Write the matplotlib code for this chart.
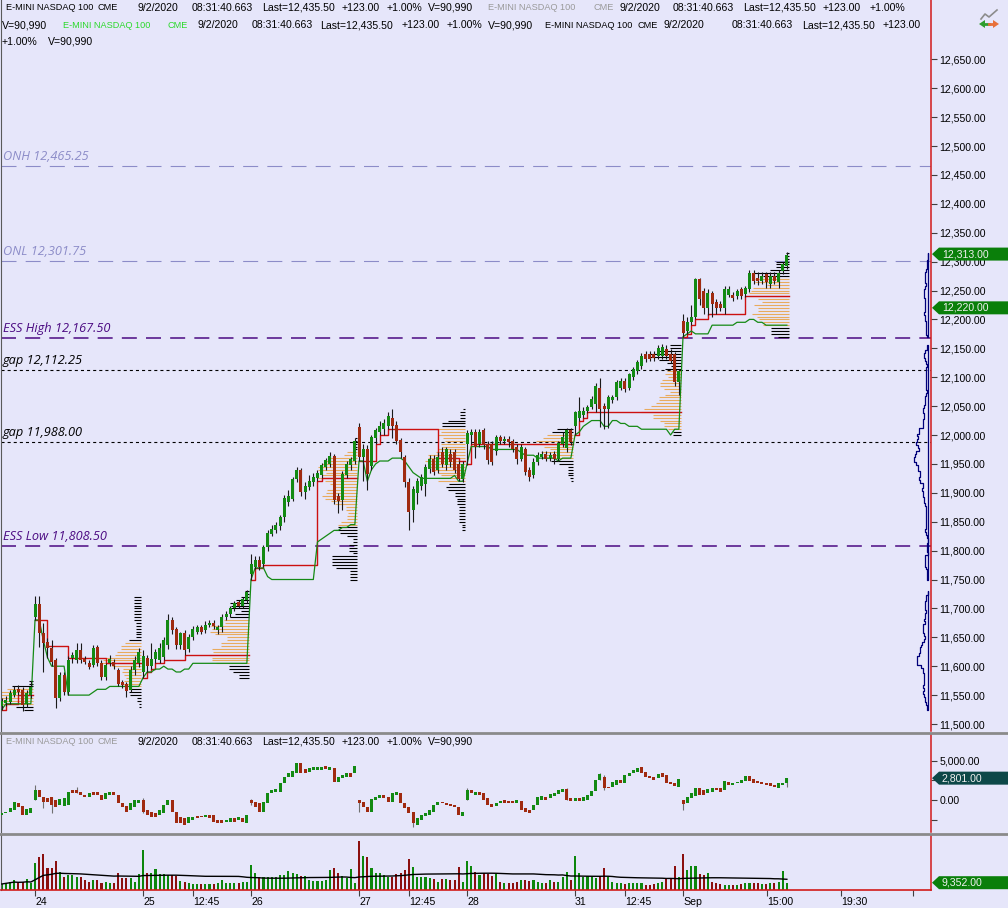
import numpy as np
import pandas as pd
import matplotlib
matplotlib.use("Agg")
import matplotlib.pyplot as plt
from matplotlib.patches import Polygon
from matplotlib.lines import Line2D
from matplotlib.ticker import FuncFormatter

plt.rcParams["font.family"] = ["Liberation Sans", "DejaVu Sans"]
plt.rcParams["lines.scale_dashes"] = False

# ---------------------------------------------------------------- data
# 15 min RTH bars : tail of Aug 21, then Aug 24, 25, 26, 27, 28, 31, Sep 1
opens = [11531, 11537, 11538, 11550, 11561, 11559, 11535, 11550,
         11685, 11707, 11657, 11642, 11631, 11610, 11545, 11585, 11555, 11615, 11610, 11628, 11612,
         11605, 11602, 11633, 11605, 11581, 11605, 11608, 11593, 11572, 11569, 11559, 11593, 11605,
         11590, 11615, 11600, 11612, 11610, 11616, 11636, 11680, 11664, 11636, 11657, 11630, 11650,
         11660, 11668, 11662, 11672, 11675, 11662, 11668, 11685, 11690, 11700, 11711, 11705, 11714,
         11760, 11772, 11784, 11777, 11806, 11829, 11836, 11842, 11858, 11884, 11890, 11924, 11940,
         11901, 11910, 11918, 11925, 11930, 11945, 11950, 11964, 11895, 11887, 11930, 11948, 11955,
         12013, 11962, 11976, 11947, 11994, 12005, 12010, 12016, 12030, 12018, 11992, 11962, 11918,
         11870, 11900, 11912, 11915, 11941, 11959, 11940, 11970, 11948, 11968, 11970, 11950, 11924,
         11985, 12000, 12005, 11985, 12008, 11985, 11985, 11973, 11996, 11990, 11993, 11990, 11980,
         11958, 11976, 11939, 11930, 11953, 11962, 11968, 11960, 11968, 11958, 11985, 11978, 12008,
         12016, 12030, 12035, 12042, 12048, 12053, 12082, 12050, 12045, 12060, 12065, 12082, 12094,
         12082, 12100, 12111, 12120, 12141, 12141, 12141, 12137, 12137, 12148, 12141, 12140, 12091,
         12198, 12180, 12196, 12205, 12270, 12250, 12220, 12246, 12230, 12226, 12220, 12243, 12243,
         12240, 12252, 12244, 12252, 12281, 12272, 12266, 12278, 12261, 12275, 12264, 12283, 12292]
highs = [11545, 11548, 11558, 11566, 11568, 11564, 11558, 11575,
         11721, 11721, 11675, 11648, 11645, 11615, 11590, 11590, 11618, 11625, 11640, 11640, 11617,
         11610, 11636, 11636, 11610, 11606, 11620, 11612, 11597, 11576, 11572, 11600, 11618, 11632,
         11628, 11620, 11640, 11630, 11640, 11650, 11690, 11685, 11668, 11660, 11662, 11655, 11670,
         11672, 11672, 11678, 11680, 11680, 11672, 11690, 11696, 11705, 11712, 11715, 11720, 11732,
         11794, 11790, 11790, 11810, 11835, 11845, 11850, 11862, 11896, 11905, 11928, 11945, 11943,
         11918, 11930, 11935, 11940, 11952, 11960, 11970, 11968, 11900, 11938, 11955, 11962, 11995,
         12020, 11985, 11982, 12000, 12012, 12025, 12028, 12040, 12045, 12025, 11995, 11966, 11925,
         11912, 11926, 11932, 11950, 11965, 11965, 11970, 11980, 11980, 11975, 11976, 11955, 11955,
         12008, 12010, 12010, 12010, 12012, 11990, 11990, 12000, 12000, 11998, 11998, 11993, 11985,
         11985, 11980, 11945, 11960, 11970, 11972, 11972, 11970, 11972, 11990, 12005, 12012, 12012,
         12042, 12065, 12048, 12052, 12068, 12090, 12098, 12055, 12070, 12070, 12095, 12098, 12098,
         12108, 12118, 12130, 12142, 12146, 12146, 12146, 12155, 12158, 12155, 12148, 12144, 12115,
         12210, 12205, 12225, 12272, 12272, 12255, 12252, 12250, 12235, 12232, 12258, 12258, 12248,
         12252, 12256, 12258, 12285, 12285, 12282, 12282, 12282, 12282, 12282, 12285, 12300, 12316]
lows = [11525, 11532, 11534, 11546, 11550, 11522, 11530, 11545,
        11680, 11633, 11590, 11614, 11600, 11528, 11540, 11550, 11550, 11605, 11605, 11605, 11603,
        11595, 11598, 11600, 11576, 11576, 11600, 11596, 11565, 11562, 11547, 11555, 11585, 11598,
        11580, 11590, 11595, 11605, 11605, 11610, 11630, 11655, 11630, 11630, 11620, 11625, 11645,
        11655, 11655, 11658, 11668, 11665, 11655, 11660, 11680, 11685, 11696, 11700, 11700, 11710,
        11749, 11768, 11766, 11772, 11800, 11825, 11830, 11835, 11850, 11878, 11885, 11918, 11895,
        11890, 11905, 11912, 11920, 11925, 11940, 11945, 11880, 11865, 11870, 11925, 11940, 11950,
        11955, 11920, 11905, 11940, 11985, 12000, 12000, 12010, 11995, 11985, 11960, 11910, 11835,
        11850, 11880, 11905, 11895, 11935, 11930, 11935, 11945, 11940, 11945, 11935, 11920, 11918,
        11948, 11985, 11960, 11980, 11975, 11950, 11948, 11965, 11985, 11985, 11980, 11970, 11950,
        11955, 11930, 11920, 11925, 11948, 11958, 11955, 11955, 11950, 11955, 11980, 11970, 11982,
        12000, 12025, 12030, 12038, 12045, 12040, 12013, 12010, 12012, 12055, 12060, 12078, 12075,
        12078, 12096, 12105, 12115, 12126, 12128, 12128, 12132, 12132, 12132, 12125, 12085, 12070,
        12170, 12175, 12190, 12200, 12225, 12210, 12208, 12205, 12210, 12215, 12210, 12238, 12232,
        12235, 12236, 12238, 12248, 12262, 12260, 12262, 12255, 12255, 12262, 12255, 12278, 12288]
closes = [11539, 11542, 11553, 11559, 11555, 11533, 11553, 11564,
          11707, 11657, 11640, 11631, 11607, 11545, 11585, 11555, 11610, 11619, 11628, 11610, 11607,
          11598, 11631, 11605, 11581, 11602, 11612, 11600, 11570, 11567, 11557, 11593, 11610, 11625,
          11617, 11600, 11612, 11625, 11631, 11645, 11680, 11662, 11636, 11657, 11628, 11650, 11664,
          11668, 11660, 11672, 11675, 11670, 11668, 11685, 11691, 11700, 11709, 11705, 11717, 11728,
          11777, 11784, 11772, 11806, 11830, 11838, 11845, 11858, 11891, 11895, 11924, 11940, 11901,
          11912, 11920, 11928, 11935, 11948, 11956, 11964, 11887, 11885, 11933, 11950, 11958, 11990,
          11962, 11976, 11933, 11996, 12008, 12016, 12020, 12033, 12016, 11990, 11970, 11918, 11866,
          11907, 11921, 11927, 11944, 11959, 11936, 11962, 11950, 11975, 11953, 11940, 11924, 11950,
          12003, 12005, 11979, 12005, 11982, 11956, 11953, 11996, 11990, 11993, 11988, 11975, 11958,
          11980, 11936, 11927, 11953, 11965, 11968, 11959, 11966, 11958, 11987, 11997, 12008, 11988,
          12039, 12042, 12042, 12048, 12062, 12085, 12045, 12045, 12065, 12065, 12091, 12094, 12080,
          12105, 12114, 12126, 12137, 12131, 12132, 12133, 12151, 12152, 12137, 12128, 12091, 12111,
          12177, 12196, 12205, 12270, 12235, 12220, 12246, 12226, 12220, 12220, 12252, 12252, 12237,
          12249, 12241, 12255, 12281, 12266, 12266, 12275, 12264, 12275, 12266, 12281, 12295, 12312]
volumes = [7690, 9390, 10680, 12810, 8540, 10680, 13660, 8540,
           35010, 42700, 46120, 27760, 27760, 37150, 23490, 17080, 19220, 19220, 17080, 17080, 12810,
           10680, 12810, 12810, 8540, 10680, 9390, 8540, 21350, 14950, 14950, 14950, 10680, 20500,
           51240, 22200, 22200, 26470, 20500, 20500, 19220, 19220, 18360, 11960, 10680, 8540, 7690,
           7690, 7690, 7690, 7690, 7690, 9390, 12810, 9390, 8540, 9390, 9390, 10680, 10680,
           32030, 22200, 17080, 17080, 17080, 17080, 17080, 18790, 19220, 24770, 22200, 20500, 17930,
           17930, 12810, 11960, 11960, 11960, 12810, 25620, 27760, 22200, 17930, 14950, 26470, 9390,
           63200, 43550, 41850, 27760, 22200, 22200, 19220, 17080, 17080, 20500, 21350, 25620, 39280,
           29040, 17080, 17080, 17080, 14950, 13660, 10680, 13660, 13660, 12810, 12810, 29890, 10680,
           37150, 30740, 23490, 19220, 22200, 20500, 17930, 20500, 10680, 8540, 8540, 9390, 10680,
           12810, 12810, 11960, 12810, 10680, 9390, 9390, 12810, 10680, 10680, 17080, 23490, 12810,
           43550, 22200, 17080, 17930, 17080, 14950, 17080, 27760, 17080, 10680, 9390, 8540, 7690,
           8540, 9390, 9390, 9390, 6410, 6410, 7690, 8540, 10680, 13660, 13660, 30740, 17080,
           46120, 25620, 30740, 30740, 20500, 19220, 21350, 10680, 9390, 7690, 6410, 6410, 6410,
           6410, 7690, 9390, 8540, 8540, 8540, 7690, 7690, 8540, 9390, 10680, 24770, 9352]
delta_open = [-1920, -1700, -1490, -1270, -340, -760, -1920, -1700,
              10, 1290, 430, 220, 430, 10, -630, -760, -630, 1290, 1290, 1070, 650,
              430, 1070, 1070, 650, 90, 650, 1070, 650, -340, -760, -1270, -850, -340,
              10, -1270, -1490, -1700, -1920, -1700, -630, 10, -1490, -2210, -2340, -2980, -2560,
              -2040, -2040, -2210, -1920, -1920, -2560, -2560, -2770, -2770, -2340, -2560, -2340, -2980,
              10, -210, -420, -1490, -420, 860, 1070, 1070, 2140, 3000, 3000, 3510, 4700,
              3940, 3640, 3850, 3850, 3850, 4360, 3850, 4060, 2360, 2780, 3000, 3510, 3510,
              10, -210, -850, -1490, 10, 220, 650, 430, -210, 650, 950, -340, -850,
              -1490, -3200, -2560, -2040, -1920, -1490, -630, -210, -340, -500, -630, -850, -2040,
              10, 1290, 650, 1070, 860, 220, -510, -760, -340, 10, -80, -120, -420,
              -80, -1060, -1270, -1270, -630, 10, 430, 220, 520, 780, 1070, 1370, 220,
              -80, 220, -80, 10, 520, 1200, 2570, 3000, 1720, 1720, 1930, 2570, 2140,
              3080, 3420, 3640, 4190, 3640, 3080, 2910, 2780, 3420, 3210, 2360, 2230, 1720,
              10, -340, 220, 520, 1500, 1290, 860, 1070, 1500, 1500, 1290, 2360, 1930,
              2140, 2140, 2480, 3080, 2650, 2480, 2360, 2140, 2140, 1930, 1500, 1930, 2140]
delta_close = [-1620, -1490, -1060, -210, -850, -1920, -1190, -1060,
               1290, 430, -210, -210, -630, -850, 90, 220, 1070, 860, 860, 650, 430,
               860, 650, 650, 10, 860, 1070, 650, -420, -850, -1490, -420, 10, 10,
               -1490, -1920, -2130, -2130, -1270, -630, 10, -1490, -2980, -2980, -3200, -2130, -2130,
               -2340, -2210, -1920, -2340, -2770, -2900, -2980, -2560, -2340, -2770, -2210, -2770, -1920,
               -420, -850, -1490, -210, 950, 1290, 1370, 2140, 3000, 3420, 3770, 4700, 3420,
               3420, 4060, 4190, 4280, 4280, 3940, 4280, 2360, 3000, 3210, 3510, 3000, 4360,
               -420, -850, -1490, 90, 430, 650, 220, -210, 860, 1070, -420, -1060, -1700,
               -2980, -2340, -1920, -1700, -1270, -630, -210, -420, -630, -760, -850, -1920, -1490,
               1290, 860, 1070, 650, 10, -630, -850, -420, -120, -340, -420, -420, 10,
               -1270, -1490, -1620, -630, 430, 520, 10, 780, 950, 1290, 1370, 10, -80,
               220, -80, 430, 650, 1200, 2570, 3300, 1500, 1500, 2360, 2570, 2140, 3210,
               3510, 3850, 4060, 3510, 3000, 2780, 2570, 3340, 3000, 2230, 2060, 1800, 2650,
               -500, 430, 950, 1500, 650, 650, 1370, 1500, 1290, 1070, 2480, 1930, 2230,
               2360, 2570, 3080, 2480, 2230, 2140, 2060, 1930, 1800, 1720, 2140, 2230, 2780]
# bars whose delta wick goes visibly past the body: index -> (high, low)
delta_wicks = {8: (1930, 10), 10: (430, -1060), 12: (430, -1700), 18: (1720, 860),
               34: (220, -1700), 60: (100, -700), 86: (10, -1490), 99: (-1490, -3400),
               112: (1500, 10), 136: (1500, 10), 144: (3400, 2570), 145: (3200, 1300),
               164: (10, -1270), 189: (2780, 1720)}

session_starts = [0, 8, 34, 60, 86, 112, 138, 164]
xtick_pos = [8, 34, 46, 60, 86, 98, 112, 138, 150, 164, 184.3, 202, 219.3]
xtick_lab = ["24", "25", "12:45", "26", "27", "12:45", "28", "31", "12:45", "Sep", "15:00", "19:30", ""]

level_names = ["ONH", "ONL", "ESS High", "gap", "gap", "ESS Low"]
level_prices = [12465.25, 12301.75, 12167.50, 12112.25, 11988.00, 11808.50]

tag_prices = [12313.0, 12220.0]
delta_last = 2801.0
volume_last = 9352.0

# ---------------------------------------------------------------- style
W, H = 1008, 908
BG = "#E6E6FA"
GREEN, RED = "#138A13", "#A02A10"
VGREEN, VRED = "#0C870C", "#8B0F0F"
ORANGE = "#E8AB5E"
AXRED = "#D21A1A"
NAVY = "#00007A"

o = np.array(opens, float); h = np.array(highs, float)
l = np.array(lows, float); c = np.array(closes, float)
vol = np.array(volumes, float)
do = np.array(delta_open, float); dc = np.array(delta_close, float)
n = len(c); idx = np.arange(n)
up = c >= o

fig = plt.figure(figsize=(W / 100, H / 100), dpi=100, facecolor=BG)


def rect(x0, y0, x1, y1):
    return [x0 / W, 1 - y1 / H, (x1 - x0) / W, (y1 - y0) / H]


def fx(px):
    return px / W


def fy(py):
    return 1 - py / H


XL = (-0.19, 223.7)
ax = fig.add_axes(rect(1, 0, 931, 731))
axd = fig.add_axes(rect(1, 734, 931, 832), sharex=ax)
axv = fig.add_axes(rect(1, 835, 931, 890), sharex=ax)
for a in (ax, axd, axv):
    a.set_facecolor(BG)
    a.spines["top"].set_visible(False)
    a.spines["bottom"].set_visible(False)
    a.spines["left"].set_color("#5A5A5A")
    a.spines["right"].set_color(AXRED)
    a.spines["right"].set_linewidth(1.1)
    a.yaxis.tick_right()
    a.tick_params(axis="y", direction="out", length=4, width=0.8, color="#404040",
                  pad=2, labelsize=7.6)
    a.tick_params(axis="x", bottom=False, labelbottom=False)
ax.set_xlim(*XL)
ax.set_ylim(11487.9, 12752.6)
axd.set_ylim(-4102, 8461)
axv.set_ylim(0, 70400)
fmt = FuncFormatter(lambda v, _: f"{v:,.2f}")
ax.set_yticks(np.arange(11500, 12651, 50))
ax.yaxis.set_major_formatter(fmt)
axd.set_yticks([-2500, 0, 2500, 5000])
axd.set_yticklabels(["", "0.00", "", "5,000.00"])
axv.set_yticks([])

# --- key levels
lev_col = ["#8C8CC8", "#8C8CC8", "#4B0A82", "#000000", "#000000", "#4B0A82"]
lev_dash = [(10.8, 6.6), (10.8, 6.6), (10.8, 6.6), (2.2, 2.2), (2.2, 2.2), (10.8, 6.6)]
lev_lw = [0.8, 0.8, 1.1, 0.8, 0.8, 1.1]
for name, p, col, ds, lw in zip(level_names, level_prices, lev_col, lev_dash, lev_lw):
    ax.axhline(p, color=col, lw=lw, dashes=ds, zorder=1)
    ax.annotate(f"{name} {p:,.2f}", xy=(0.002, p), xycoords=ax.get_yaxis_transform(),
                xytext=(0, 2), textcoords="offset points", ha="left", va="bottom",
                fontsize=9.2, color=col, family=["Open Sans", "DejaVu Sans"], style="italic")


# --- volume profiles per session (developing POC / VAL)
def value_area(p, frac=0.7):
    poc = int(np.argmax(p))
    lo = hi = poc
    tot, target = p[poc], frac * p.sum()
    while tot < target:
        nxt_up = p[hi + 1] if hi + 1 < len(p) else -1
        nxt_dn = p[lo - 1] if lo - 1 >= 0 else -1
        if nxt_up >= nxt_dn:
            hi += 1; tot += nxt_up
        else:
            lo -= 1; tot += nxt_dn
    mask = np.zeros(len(p), bool); mask[lo:hi + 1] = True
    return poc, mask


def add_bar(prof, lv, k):
    m = (lv >= l[k]) & (lv <= h[k])
    if not m.any():
        m[np.argmin(np.abs(lv - c[k]))] = True
    prof[m] += vol[k] / m.sum()


BIN = 5.0
bounds = session_starts + [n]
dev_val = np.zeros(n)
for s0, s1 in zip(bounds[:-1], bounds[1:]):
    lv = np.arange(np.floor(l[s0:s1].min() / BIN) * BIN, h[s0:s1].max() + BIN, BIN)
    prof = np.zeros(len(lv)); pocs = []
    for k in range(s0, s1):
        add_bar(prof, lv, k)
        poc, va = value_area(prof)
        pocs.append(lv[poc]); dev_val[k] = lv[va].min()
    anchor = s1 - 1 + 0.45
    keep = prof > 0
    length = prof / prof.max() * 9.5
    ax.hlines(lv[keep], anchor - length[keep], anchor,
              colors=np.where(va[keep], ORANGE, "black"), lw=0.8, zorder=2)
    ax.step(list(range(s0, s1)) + [anchor], pocs + [pocs[-1]], where="post",
            color="#CC1010", lw=1.0, zorder=4)
ax.plot(idx, dev_val, color="#158A15", lw=0.9, zorder=4)

# composite profile on the right edge
lv_all = np.arange(np.floor(l.min() / BIN) * BIN, h.max() + BIN, BIN)
comp = np.zeros(len(lv_all))
for k in range(n):
    add_bar(comp, lv_all, k)
x_anchor = XL[0] + (928 - 1) / 930 * (XL[1] - XL[0])
clen = comp / comp.max() * 3.4
ax.fill_betweenx(lv_all, x_anchor - clen, x_anchor, where=comp > 0, step="mid",
                 facecolor="none", edgecolor=NAVY, lw=0.9, zorder=3)

# --- price candles
ax.vlines(idx, l, h, color="#1A1A1A", lw=0.8, zorder=5)
ax.bar(idx, np.maximum(np.abs(c - o), 1.6), 0.72, np.minimum(o, c),
       color=np.where(up, GREEN, RED), lw=0, zorder=6)

# --- cumulative delta candles
dup = dc >= do
for k, (dh, dl) in delta_wicks.items():
    axd.vlines(k, dl, dh, color="#707070", lw=0.8, zorder=2)
axd.bar(idx, np.maximum(np.abs(dc - do), 70), 0.72, np.minimum(do, dc),
        color=np.where(dup, GREEN, RED), lw=0, zorder=3)

# --- volume
axv.bar(idx, vol, 0.5, color=np.where(up, VGREEN, VRED), lw=0, zorder=2)
sma = pd.Series(vol).rolling(50, min_periods=1).mean()
axv.plot(idx, sma, color="black", lw=1.0, zorder=3)
axv.spines["bottom"].set_visible(True)
axv.spines["bottom"].set_color(AXRED)
axv.spines["bottom"].set_linewidth(1.2)
axv.set_xticks(xtick_pos)
axv.set_xticklabels(xtick_lab, ha="left")
axv.tick_params(axis="x", bottom=True, labelbottom=True, length=4, width=0.8,
                color="#404040", pad=1, labelsize=7.6)

# --- pane separators
for yy in (732.5, 833.5):
    fig.add_artist(Line2D([0, 1], [fy(yy)] * 2, color="#8A8A8A", lw=2.0))


# --- value tags on the right axis
def ypix(a, v):
    return H - a.transData.transform((0, v))[1]


def tag(yp, text, col):
    pts = [(932, yp), (939, yp - 6.5), (1008, yp - 6.5), (1008, yp + 6.5), (939, yp + 6.5)]
    fig.add_artist(Polygon([(fx(x), fy(y)) for x, y in pts], closed=True,
                           transform=fig.transFigure, facecolor=col, edgecolor="none"))
    fig.text(fx(942), fy(yp), text, color="#F0F0F0", fontsize=7.6, va="center", ha="left")


for p in tag_prices:
    tag(ypix(ax, p), f"{p:,.2f}", "#0A7F0A")
tag(ypix(axd, delta_last), f"{delta_last:,.2f}", "#0D4848")
tag(ypix(axv, volume_last), f"{volume_last:,.2f}", "#0A7F0A")

# --- header lines
GRAY, LGREEN = "#9A9A9A", "#2BD92B"


def name_block(x_name, x_cme, col):
    return [(x_name, "E-MINI NASDAQ 100", col, 6.6), (x_cme, "CME", col, 6.6)]


def quote_block(xs):
    vals = ["9/2/2020", "08:31:40.663", "Last=12,435.50", "+123.00", "+1.00%", "V=90,990"]
    return [(x, s, "k", 7.6) for x, s in zip(xs, vals)]


hdr = [
    (8, name_block(6, 98, "k") + quote_block([137, 192, 262, 342, 387, 428])
     + name_block(488, 593, GRAY) + quote_block([619, 673, 743, 823, 870])),
    (25, [(2, "V=90,990", "k", 7.6)] + name_block(63, 168, LGREEN)
     + quote_block([197, 252, 320, 402, 447, 488]) + name_block(545, 638, "k")
     + quote_block([663, 732, 802, 883])),
    (42, [(2, "+1.00%", "k", 7.6), (48, "V=90,990", "k", 7.6)]),
    (742, name_block(6, 98, GRAY) + quote_block([137, 192, 262, 342, 387, 428])),
]
for yy, parts in hdr:
    for xx, s, col, fs in parts:
        fig.text(fx(xx), fy(yy), s, fontsize=fs, color=col, ha="left", va="center")

# --- little chart-style icon top right
fig.add_artist(Line2D([fx(981), fx(985), fx(989), fx(997)], [fy(19), fy(14), fy(17), fy(10)],
                      color="#8C8C8C", lw=1.2))
fig.add_artist(Polygon([(fx(979), fy(24)), (fx(985), fy(20)), (fx(985), fy(28))],
                       transform=fig.transFigure, facecolor="#2E9E2E", edgecolor="none"))
fig.add_artist(Line2D([fx(984), fx(989)], [fy(24)] * 2, color="#2E9E2E", lw=2))
fig.add_artist(Polygon([(fx(999), fy(24)), (fx(993), fy(20)), (fx(993), fy(28))],
                       transform=fig.transFigure, facecolor="#E8703A", edgecolor="none"))
fig.add_artist(Line2D([fx(989), fx(994)], [fy(24)] * 2, color="#E8703A", lw=2))

fig.savefig("out.png", dpi=100, facecolor=BG)
